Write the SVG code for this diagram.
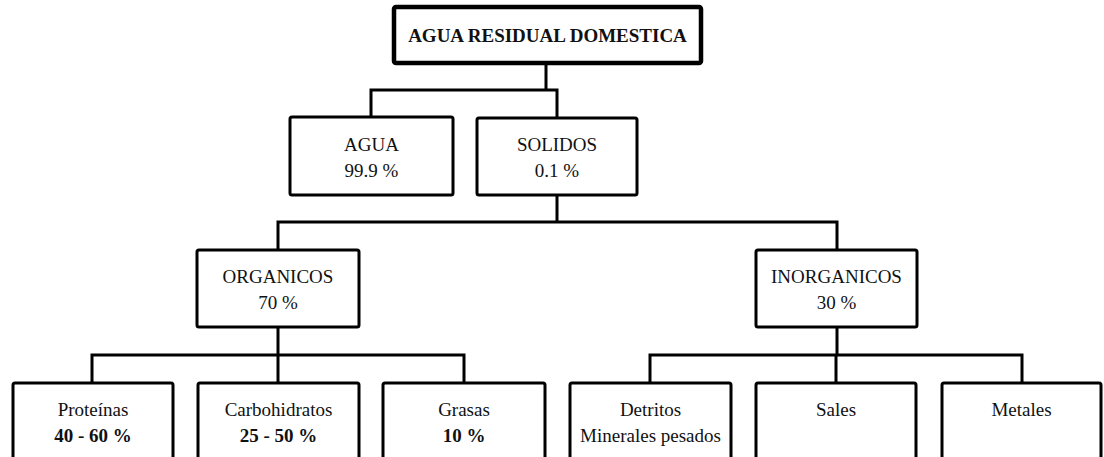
<svg xmlns="http://www.w3.org/2000/svg" width="1104" height="457" viewBox="0 0 1104 457">
<style>
.box{fill:#fff;stroke:#000;stroke-width:3;}
.title{fill:#fff;stroke:#000;stroke-width:4.5;}
.conn{fill:none;stroke:#000;stroke-width:3;stroke-linejoin:miter;}
text{font-family:"Liberation Serif","Times New Roman",serif;font-size:19px;fill:#111;text-anchor:middle;}
.b{font-weight:bold;}
</style>
<rect width="1104" height="457" fill="#fff"/>
<g id="connectors">
<path class="conn" d="M546,63 V90 M371,117 V90 H557 V118"/>
<path class="conn" d="M557,195 V222 M278,250 V222 H837 V250"/>
<path class="conn" d="M278,327 V355 M92,383 V355 H464 V383 M278,355 V383"/>
<path class="conn" d="M837,327 V355 M650,383 V355 H1022 V383 M836,355 V383"/>
</g>
<g id="n-title">
<rect class="title" x="394" y="7" width="307" height="56" rx="2"/>
<text class="b" x="547.5" y="42">AGUA RESIDUAL DOMESTICA</text>
</g>
<g id="n-agua">
<rect class="box" x="290" y="117" width="163" height="78" rx="2"/>
<text x="371.5" y="151">AGUA</text>
<text x="371.5" y="177">99.9 %</text>
</g>
<g id="n-solidos">
<rect class="box" x="477" y="118" width="160" height="77" rx="2"/>
<text x="557" y="151">SOLIDOS</text>
<text x="557" y="177">0.1 %</text>
</g>
<g id="n-organicos">
<rect class="box" x="197" y="250" width="162" height="77" rx="2"/>
<text x="278" y="283">ORGANICOS</text>
<text x="278" y="309">70 %</text>
</g>
<g id="n-inorganicos">
<rect class="box" x="756" y="250" width="161" height="77" rx="2"/>
<text x="836.5" y="283">INORGANICOS</text>
<text x="836.5" y="309">30 %</text>
</g>
<g id="n-proteinas">
<rect class="box" x="13" y="383" width="160" height="90" rx="2"/>
<text x="93" y="416">Proteínas</text>
<text class="b" x="93" y="442">40 - 60 %</text>
</g>
<g id="n-carbohidratos">
<rect class="box" x="198" y="383" width="161" height="90" rx="2"/>
<text x="278.5" y="416">Carbohidratos</text>
<text class="b" x="278.5" y="442">25 - 50 %</text>
</g>
<g id="n-grasas">
<rect class="box" x="383" y="383" width="162" height="90" rx="2"/>
<text x="464" y="416">Grasas</text>
<text class="b" x="464" y="442">10 %</text>
</g>
<g id="n-detritos">
<rect class="box" x="570" y="383" width="161" height="90" rx="2"/>
<text x="650.5" y="416">Detritos</text>
<text x="650.5" y="442">Minerales pesados</text>
</g>
<g id="n-sales">
<rect class="box" x="756" y="383" width="160" height="90" rx="2"/>
<text x="836" y="416">Sales</text>
</g>
<g id="n-metales">
<rect class="box" x="942" y="383" width="159" height="90" rx="2"/>
<text x="1021.5" y="416">Metales</text>
</g>
</svg>
